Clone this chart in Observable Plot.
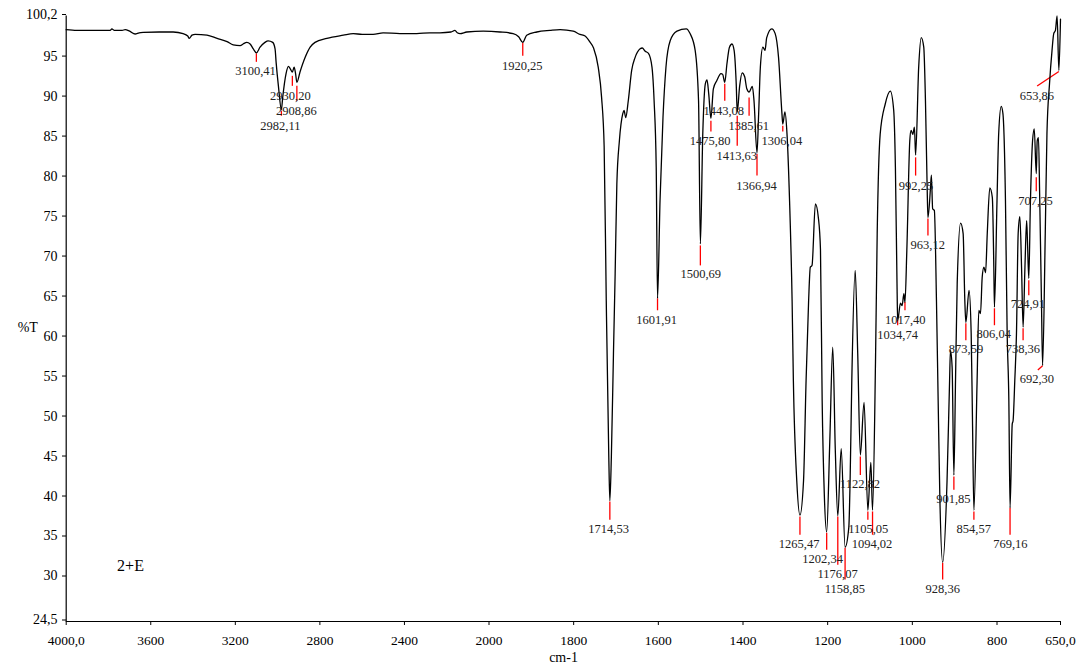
<!DOCTYPE html>
<html><head><meta charset="utf-8">
<script src="https://cdn.jsdelivr.net/npm/d3@7"></script>
<script src="https://cdn.jsdelivr.net/npm/@observablehq/plot@0.6"></script>
<style>
html,body{margin:0;padding:0;background:#fff;}
#chart{width:1088px;height:670px;overflow:hidden;}
</style></head><body><div id="chart"></div>
<script>
// IR spectrum: wavenumber (cm-1) and transmittance (%T)
const wavenumber = [4000,3950,3860,3792,3784,3772,3735,3721,3700,3674,3655,3636,3560,3494,3447,3425,3418,3405,3390,3334,3286,3239,3210,3177,3163,3146,3130,3115,3100.41,3083,3060,3045,3023,3012,3007,2996,2982.11,2976,2960,2949,2940,2930.2,2922,2915,2908.86,2894,2870,2846,2823,2767,2689,2642,2600,2548,2501,2421,2342,2280,2232,2180,2161,2150,2137,2105,2027,1974,1943,1930,1920.25,1911,1887,1856,1832,1801,1785,1773,1761,1753,1742,1734,1728,1723,1717,1714.53,1711,1706,1702,1698,1692,1684,1681,1677,1671,1663,1655,1643,1638,1631,1623,1615,1610,1605,1601.91,1596,1589,1582,1572,1556,1534,1525,1513,1505,1500.69,1495,1489,1485,1481,1475.8,1470,1462,1452,1448,1443.08,1438,1432,1426,1421,1416,1413.63,1408,1402,1396,1391,1385.61,1378,1374,1366.94,1363,1359,1353,1348,1344,1332,1324,1316,1308,1306.04,1301,1296,1290,1284,1281,1273,1265.47,1257,1251,1245,1241,1237,1229,1222,1217,1213,1208,1202.34,1195,1188,1182,1176.07,1168,1158.85,1150,1147,1143,1135,1129,1122.82,1114,1105.05,1098,1094.02,1087,1083,1076,1064,1052,1044,1040,1036,1034.74,1028,1024,1020,1017.4,1013,1006,1003,999,995,992.25,985,979,973,969,965,963.12,957,955,952,948,943,939,935,928.36,918,912,910,906,901.85,898,894,886,880,876,873.59,866,861,858,854.57,847,843,839,835,831,827,823,817,811,807.5,806.04,800,796,790,786,780,776,772,769.16,764,762,758,754,750,746,742,738.36,734,730,728,724.91,721,716,712,707.25,705,702,699,695,692.3,686,682,676,670,666,662,658,653.86,650];
const transmittance = [98.5,98.4,98.4,98.4,98.6,98.4,98.4,98.5,98.3,97.95,98.1,98.15,98.2,98.2,98.0,97.7,97.4,97.8,97.9,97.8,97.4,97.0,96.6,96.5,96.7,96.9,96.7,96.1,95.6,96.3,96.9,97.1,96.9,96.1,94.4,91.4,88.5,90.0,93.0,93.9,93.6,93.2,93.8,93.0,91.9,93.2,95.0,96.3,96.9,97.4,97.8,98.0,97.9,97.9,98.1,98.0,98.0,98.1,98.1,98.2,98.4,98.1,98.0,98.2,98.3,98.2,98.0,97.6,96.9,97.8,98.2,98.4,98.5,98.3,97.9,97.7,96.9,96.2,93.8,90.0,83.9,64.6,45,39.6,45,58,68,79.2,84.6,88.0,88.4,87.5,89.6,93.4,95.0,96.1,96.2,95.8,95.5,93.8,89.6,81.3,64.9,77.1,87.5,93.8,97.1,98.3,98.6,98.0,95.9,89.6,71.7,85.5,91.7,92.2,90.5,87.4,91.1,92.1,93.0,92.9,91.9,94.2,96.3,96.7,95.9,91.7,88.2,91.4,93.1,92.6,91.1,90.7,91.4,89.6,83.1,88.0,93.8,96.3,95.9,97.5,98.6,98.0,95.0,88.0,86.7,88.2,85.4,77.1,64.6,54.6,42.1,37.8,42.1,54.6,64.6,68.8,69.0,76.7,75.0,71.0,52.1,40.5,35.7,47.0,58.8,46.0,37.7,46.1,33.8,36.3,42.1,54.6,68.4,58.0,45.3,51.9,38.4,44.4,38.4,57.0,73.0,85.4,89.2,90.8,88.4,81.3,66.0,62.1,64.3,64.0,65.5,64.4,70.9,84.6,85.9,85.4,86.3,82.8,93.8,97.5,96.3,89.6,78.8,75.0,78.8,80.3,76.1,75.9,64.6,52.1,40,31.9,42.1,54.6,58.4,56.3,42.8,54.6,66.8,74.3,73.0,64.6,61.9,65.9,60.5,50.0,38.4,54.6,63.4,63.0,67.5,68.8,68.1,73.0,78.7,77.5,68.8,63.8,77.1,85.5,88.9,88.0,77.1,60.5,52.1,38.7,49.2,49.6,54.6,60.5,73.0,75.1,68.8,61.3,68.8,74.6,72.0,67.4,77.1,84.6,86.1,80.5,84.6,85.0,77.1,64.6,56.5,73.0,85.5,91.7,95.9,98.0,98.4,100.2,93.4,99.8];

// Peak annotations
const peakLabels = ["3100,41","2982,11","2930,20","2908,86","1920,25","1714,53","1601,91","1500,69","1475,80","1443,08","1413,63","1385,61","1366,94","1306,04","1265,47","1202,34","1176,07","1158,85","1122,82","1105,05","1094,02","1034,74","1017,40","992,25","963,12","928,36","901,85","873,59","854,57","806,04","769,16","738,36","724,91","707,25","692,30","653,86"];
const peakWn = [3100.41,2982.11,2930.20,2908.86,1920.25,1714.53,1601.91,1500.69,1475.80,1443.08,1413.63,1385.61,1366.94,1306.04,1265.47,1202.34,1176.07,1158.85,1122.82,1105.05,1094.02,1034.74,1017.40,992.25,963.12,928.36,901.85,873.59,854.57,806.04,769.16,738.36,724.91,707.25,692.30,653.86];
const leaderTopT = [95.53,88.36,92.72,91.47,96.87,39.5,64.91,71.52,87.11,91.72,87.73,90.02,82.99,86.49,37.63,35.6,37.63,33.73,45.12,38.26,38.26,62.17,64.45,82.53,74.89,31.86,42.62,61.79,38.26,63.66,38.72,61.17,67.15,80.04,56.47,93.26];
const leaderEndWn = [3100.41,2982.11,2930.20,2908.86,1920.25,1714.53,1601.91,1500.69,1475.80,1443.08,1413.63,1385.61,1366.94,1306.04,1265.47,1202.34,1176.07,1158.85,1122.82,1105.05,1094.02,1034.74,1017.40,992.25,963.12,928.36,901.85,873.59,854.57,806.04,769.16,738.36,724.91,707.25,703.5,705.2];
const leaderEndT = [94.47,87.73,91.47,89.6,95.22,37.22,63.41,69.02,85.77,89.6,83.99,87.73,80.25,85.77,35.35,33.48,31.61,29.74,42.83,37.22,35.35,61.54,63.41,80.25,72.77,29.74,40.96,59.67,37.22,61.54,35.35,59.67,65.28,78.29,55.93,91.44];
const labelWn = [3104.8,2986.6,2939.3,2910.9,1921.5,1717.4,1603.9,1499.8,1477.8,1445.4,1414.7,1386.3,1368.1,1308.2,1267.3,1212.0,1176.5,1159.3,1123.8,1104.1,1095.4,1034.6,1016.7,991.3,963.7,928.2,903.1,873.1,854.9,807.6,768.3,739.0,727.2,709.2,705.9,705.9];
const labelT = [93.35,86.49,90.23,88.36,93.97,36.06,62.17,67.9,84.61,88.36,82.74,86.49,79.0,84.61,34.23,32.32,30.49,28.58,41.67,36.1,34.23,60.38,62.25,79.0,71.61,28.58,39.84,58.55,36.1,60.42,34.23,58.55,64.16,77.13,54.81,90.19];

// Axes
const xTicks = [4000,3600,3200,2800,2400,2000,1800,1600,1400,1200,1000,800,650];
const xTickLabels = ["4000,0","3600","3200","2800","2400","2000","1800","1600","1400","1200","1000","800","650,0"];
const yTicks = [24.5,30,35,40,45,50,55,60,65,70,75,80,85,90,95,100.2];
const yTickLabels = ["24,5","30","35","40","45","50","55","60","65","70","75","80","85","90","95","100,2"];
const xTitle = "cm-1";
const yTitle = "%T";
const sampleName = "2+E";

const spectrum = wavenumber.map((w, i) => ({w, t: transmittance[i]}));
const peaks = peakWn.map((w, i) => ({
  w, label: peakLabels[i], t1: leaderTopT[i], w2: leaderEndWn[i], t2: leaderEndT[i], lw: labelWn[i], lt: labelT[i]
}));

const chart = Plot.plot({
  width: 1088,
  height: 670,
  marginLeft: 66,
  marginRight: 28,
  marginTop: 15.5,
  marginBottom: 49,
  style: {fontFamily: "'Liberation Serif', 'Times New Roman', serif", background: "#ffffff", color: "#000"},
  x: {type: "linear", domain: [4000, 2000, 650], range: [65.7, 488.5, 1060]},
  y: {domain: [24.5, 100.2], range: [621, 15.5]},
  marks: [
    Plot.axisY(yTicks, {tickFormat: d => yTickLabels[yTicks.indexOf(d)], tickSize: 4, tickPadding: 5, fontSize: 14, label: null, dy: -1.5}),
    Plot.axisX(xTicks, {tickFormat: d => xTickLabels[xTicks.indexOf(d)], tickSize: 4, tickPadding: 10, fontSize: 13.5, label: null}),
    Plot.ruleX([4000], {y1: 24.5, y2: 100.2, stroke: "#000", strokeWidth: 1.2}),
    Plot.ruleY([24.5], {x1: 4000, x2: 650, stroke: "#000", strokeWidth: 1.2}),
    Plot.link(peaks, {x1: "w", y1: "t1", x2: "w2", y2: "t2", stroke: "#ff0000", strokeWidth: 1.3}),
    Plot.line(spectrum, {x: "w", y: "t", stroke: "#000", strokeWidth: 1.3, curve: "monotone-x"}),
    Plot.text(peaks, {x: "lw", y: "lt", text: "label", fontSize: 12.5, fill: "#222", textAnchor: "middle", lineAnchor: "middle"}),
    Plot.text([yTitle], {frameAnchor: "left", dx: -38.7, dy: 9, fontSize: 14, textAnchor: "middle"}),
    Plot.text([xTitle], {frameAnchor: "bottom", dy: 31, fontSize: 14, textAnchor: "middle", lineAnchor: "top"}),
    Plot.text([sampleName], {frameAnchor: "bottom-left", dx: 64, dy: -56, fontSize: 16, textAnchor: "middle", lineAnchor: "middle"})
  ]
});
document.getElementById("chart").appendChild(chart);
</script></body></html>
